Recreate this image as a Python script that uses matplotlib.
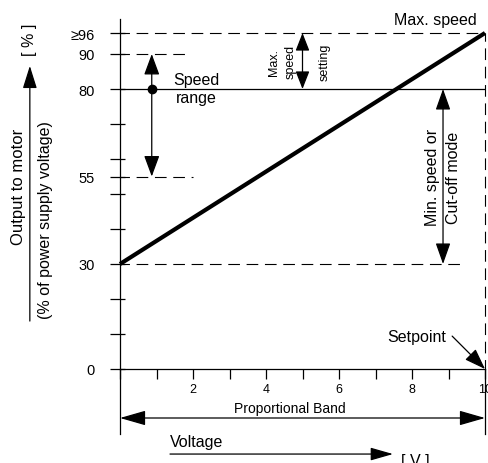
import matplotlib
matplotlib.use("Agg")
import matplotlib.pyplot as plt
from matplotlib.patches import FancyArrowPatch

plt.rcParams["font.family"] = ["Liberation Sans", "DejaVu Sans"]

# -----------------------------------------------------------------------------
# characteristic: output to motor vs. control voltage
volts = [0, 10]
output = [30, 96]

y_ticks = [0, 10, 20, 30, 40, 50, 55, 60, 70, 80, 90, 96]
y_labels = ["0", "", "", "30", "", "", "55", "", "", "80", "90", "\u226596"]
x_ticks = list(range(11))
x_labels = ["", "", "2", "", "4", "", "6", "", "8", "", "10"]

max_speed = 96
speed_range = [55, 90]
speed_point = 80
min_speed = 30
setpoint = 10
# -----------------------------------------------------------------------------

DASH = (2, (10.5, 6))


def arrow(ax, x0, y0, x1, y1, style="-|>", hl=14, hw=4.6, lw=0.9):
    st = f"{style},head_length={hl},head_width={hw}"
    p = FancyArrowPatch((x0, y0), (x1, y1), arrowstyle=st, mutation_scale=1,
                        shrinkA=0, shrinkB=0, color="black", lw=lw, clip_on=False)
    ax.add_patch(p)


fig = plt.figure(figsize=(4.88, 4.64), dpi=100)
ax = fig.add_axes([120 / 488, 94 / 464, 365 / 488, 350 / 464])
ax.set_xlim(0, 10)
ax.set_ylim(0, 100)
for s in ["top", "right"]:
    ax.spines[s].set_visible(False)
for s in ["left", "bottom"]:
    ax.spines[s].set_linewidth(0.9)

ax.set_yticks(y_ticks)
ax.set_yticklabels(y_labels)
ax.set_yticks(y_ticks, minor=True)
ax.yaxis.remove_overlapping_locs = False
ax.set_xticks(x_ticks)
ax.set_xticklabels(x_labels)
ax.tick_params(axis="y", which="major", direction="out", length=7.2, width=0.9, pad=11,
               labelsize=10.5)
ax.tick_params(axis="y", which="minor", direction="in", length=3.8, width=0.9)
ax.tick_params(axis="x", direction="out", length=7.2, width=0.9, pad=3, labelsize=9)

# main characteristic
ax.plot(volts, output, color="black", lw=3, solid_capstyle="butt", clip_on=False)

# reference lines
ax.plot([0, 10], [max_speed, max_speed], color="black", lw=0.8, ls=DASH, clip_on=False)
ax.plot([0, 1.78], [speed_range[1], speed_range[1]], color="black", lw=0.8, ls=DASH)
ax.plot([0, 10], [speed_point, speed_point], color="black", lw=0.9)
ax.plot([0, 2.0], [speed_range[0], speed_range[0]], color="black", lw=0.8, ls=DASH)
ax.plot([0, 9.4], [min_speed, min_speed], color="black", lw=0.8, ls=DASH)
ax.plot([setpoint, setpoint], [0, max_speed], color="black", lw=0.8, ls=DASH, clip_on=False)

# speed range
arrow(ax, 0.87, speed_range[0], 0.87, speed_range[1], style="<|-|>", hl=13, hw=4.8)
ax.plot([0.87], [speed_point], "o", color="black", ms=6)
ax.text(2.08, speed_point, "Speed\nrange", ha="center", va="center", fontsize=11.5,
        linespacing=1.25)

# max speed setting
arrow(ax, 5.0, speed_point, 5.0, max_speed, style="<|-|>", hl=11, hw=4.3)
ax.text(4.22, 88, "Max.", rotation=90, ha="center", va="center", fontsize=9)
ax.text(4.68, 88, "speed", rotation=90, ha="center", va="center", fontsize=9)
ax.text(5.6, 88, "setting", rotation=90, ha="center", va="center", fontsize=9)

# min speed / cut-off
arrow(ax, 8.85, min_speed, 8.85, speed_point, style="<|-|>", hl=13, hw=4.6)
ax.text(8.57, 55, "Min. speed or", rotation=90, ha="center", va="center", fontsize=11.5)
ax.text(9.15, 55, "Cut-off mode", rotation=90, ha="center", va="center", fontsize=11.5)

ax.text(9.78, 100, "Max. speed", ha="right", va="center", fontsize=11.5)

# setpoint
ax.text(8.93, 9.4, "Setpoint", ha="right", va="center", fontsize=11.5)
arrow(ax, 9.1, 9.4, setpoint, 0, hl=13, hw=4.6)

# proportional band below the axis
ax.plot([0, 0], [0, -18.6], color="black", lw=0.9, clip_on=False)
ax.plot([10, 10], [0, -18.6], color="black", lw=0.9, clip_on=False)
arrow(ax, 0, -14, 10, -14, style="<|-|>", hl=16, hw=4.6)
ax.text(4.65, -11.2, "Proportional Band", ha="center", va="center", fontsize=10)

# voltage axis label
arrow(ax, 1.37, -24.3, 7.48, -24.3, hl=14, hw=4)
ax.text(1.37, -20.6, "Voltage", ha="left", va="center", fontsize=11.5)
ax.text(8.1, -26.2, "[ V ]", ha="center", va="center", fontsize=11.5)

# output axis label
arrow(ax, -2.47, 13.7, -2.47, 86.6, hl=14, hw=4.4)
ax.text(-2.47, 94.3, "[ % ]", rotation=90, ha="center", va="center", fontsize=11.5)
ax.text(-2.79, 52.3, "Output to motor", rotation=90, ha="center", va="center", fontsize=12)
ax.text(-2.05, 42.9, "(% of power supply voltage)", rotation=90, ha="center", va="center",
        fontsize=11.5)

fig.savefig("out.png", dpi=100)
